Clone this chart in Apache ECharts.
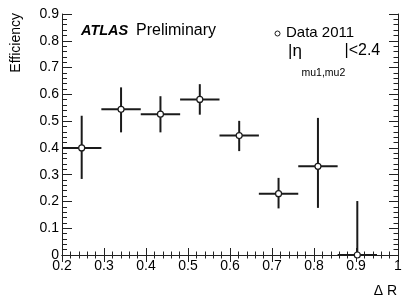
<!DOCTYPE html>
<html><head><meta charset="utf-8">
<script src="https://cdn.jsdelivr.net/npm/echarts@6/dist/echarts.min.js"></script>
<style>html,body{margin:0;padding:0;background:#fff}#c{width:411px;height:303px}</style>
</head><body><div id="c"></div>
<script>
// Data
const xCenters = [0.2469, 0.3406, 0.4344, 0.5281, 0.6219, 0.7156, 0.8094, 0.9031];
const xHalfWidth = [0.0469, 0.0469, 0.0469, 0.0469, 0.0469, 0.0469, 0.0469, 0.0469];
const efficiency = [0.400, 0.544, 0.526, 0.581, 0.446, 0.229, 0.331, 0.000];
const errDown = [0.116, 0.086, 0.068, 0.057, 0.058, 0.055, 0.155, 0.000];
const errUp = [0.120, 0.082, 0.067, 0.057, 0.055, 0.059, 0.181, 0.2015];
const legendLabel = 'Data 2011';

const FONT = '"Liberation Sans", Arial, Helvetica, sans-serif';
const INK = '#1a1a1a';
const AX = '#222';

const seriesData = xCenters.map((x, i) => [x, efficiency[i], xHalfWidth[i], errDown[i], errUp[i]]);

const chart = echarts.init(document.getElementById('c'), null, {renderer: 'canvas'});

function axisStyle(major, minor) {
  return {
    axisLine: {show: true, lineStyle: {color: AX, width: 1}},
    axisTick: {show: true, inside: true, length: major, lineStyle: {color: AX, width: 1}},
    minorTick: {show: true, splitNumber: 5, length: minor, lineStyle: {color: AX, width: 1}},
    splitLine: {show: false}
  };
}
const fmt = v => (Math.round(v * 10) / 10).toString();

chart.setOption({
  animation: false,
  backgroundColor: '#fff',
  grid: {left: 62, right: 13, top: 14, bottom: 48},
  xAxis: [
    Object.assign({type: 'value', min: 0.2, max: 1, interval: 0.1, position: 'bottom',
      axisLabel: {color: '#000', fontSize: 14, fontFamily: FONT, margin: 4, formatter: fmt}}, axisStyle(7, 3.5)),
    Object.assign({type: 'value', min: 0.2, max: 1, interval: 0.1, position: 'top',
      axisLabel: {show: false}}, axisStyle(7, 3.5))
  ],
  yAxis: [
    Object.assign({type: 'value', min: 0, max: 0.9, interval: 0.1, position: 'left',
      axisLabel: {color: '#000', fontSize: 14, fontFamily: FONT, margin: 3, formatter: fmt}}, axisStyle(10, 5)),
    Object.assign({type: 'value', min: 0, max: 0.9, interval: 0.1, position: 'right',
      axisLabel: {show: false}}, axisStyle(9, 4.5))
  ],
  series: [{
    type: 'custom',
    name: legendLabel,
    clip: false,
    data: seriesData,
    renderItem: function (params, api) {
      const x = api.value(0), y = api.value(1), xe = api.value(2), lo = api.value(3), hi = api.value(4);
      const c = api.coord([x, y]);
      const l = api.coord([x - xe, y]);
      const r = api.coord([x + xe, y]);
      const t = api.coord([x, y + hi]);
      const b = api.coord([x, y - lo]);
      const ls = {stroke: INK, lineWidth: 2};
      return {type: 'group', children: [
        {type: 'line', shape: {x1: l[0], y1: l[1], x2: r[0], y2: r[1]}, style: ls},
        {type: 'line', shape: {x1: t[0], y1: t[1], x2: b[0], y2: b[1]}, style: ls},
        {type: 'circle', shape: {cx: c[0], cy: c[1], r: 3}, style: {fill: '#fff', stroke: INK, lineWidth: 1.2}}
      ]};
    }
  }],
  graphic: [
    {type: 'text', x: 16, y: 13, rotation: Math.PI / 2,
      style: {text: 'Efficiency', align: 'right', verticalAlign: 'middle', fontSize: 14, fontFamily: FONT, fill: '#000'}},
    {type: 'text', x: 397, y: 291,
      style: {text: 'Δ R', align: 'right', verticalAlign: 'middle', fontSize: 14, fontFamily: FONT, fill: '#000'}},
    {type: 'text', x: 81, y: 31,
      style: {text: 'ATLAS', align: 'left', verticalAlign: 'middle', fontSize: 14.5, fontWeight: 'bold', fontStyle: 'italic', fontFamily: FONT, fill: '#000'}},
    {type: 'text', x: 136, y: 31,
      style: {text: 'Preliminary', align: 'left', verticalAlign: 'middle', fontSize: 16, fontFamily: FONT, fill: '#000'}},
    {type: 'circle', shape: {cx: 277.5, cy: 33.5, r: 2.5}, style: {fill: '#fff', stroke: INK, lineWidth: 1}},
    {type: 'text', x: 286, y: 33,
      style: {text: legendLabel, align: 'left', verticalAlign: 'middle', fontSize: 15, fontFamily: FONT, fill: '#000'}},
    {type: 'text', x: 288, y: 51,
      style: {text: '|η', align: 'left', verticalAlign: 'middle', fontSize: 17, fontFamily: FONT, fill: '#000'}},
    {type: 'text', x: 301.5, y: 73,
      style: {text: 'mu1,mu2', align: 'left', verticalAlign: 'middle', fontSize: 10.5, fontFamily: FONT, fill: '#000'}},
    {type: 'text', x: 344.5, y: 51,
      style: {text: '|<2.4', align: 'left', verticalAlign: 'middle', fontSize: 16, fontFamily: FONT, fill: '#000'}}
  ]
});
</script></body></html>
